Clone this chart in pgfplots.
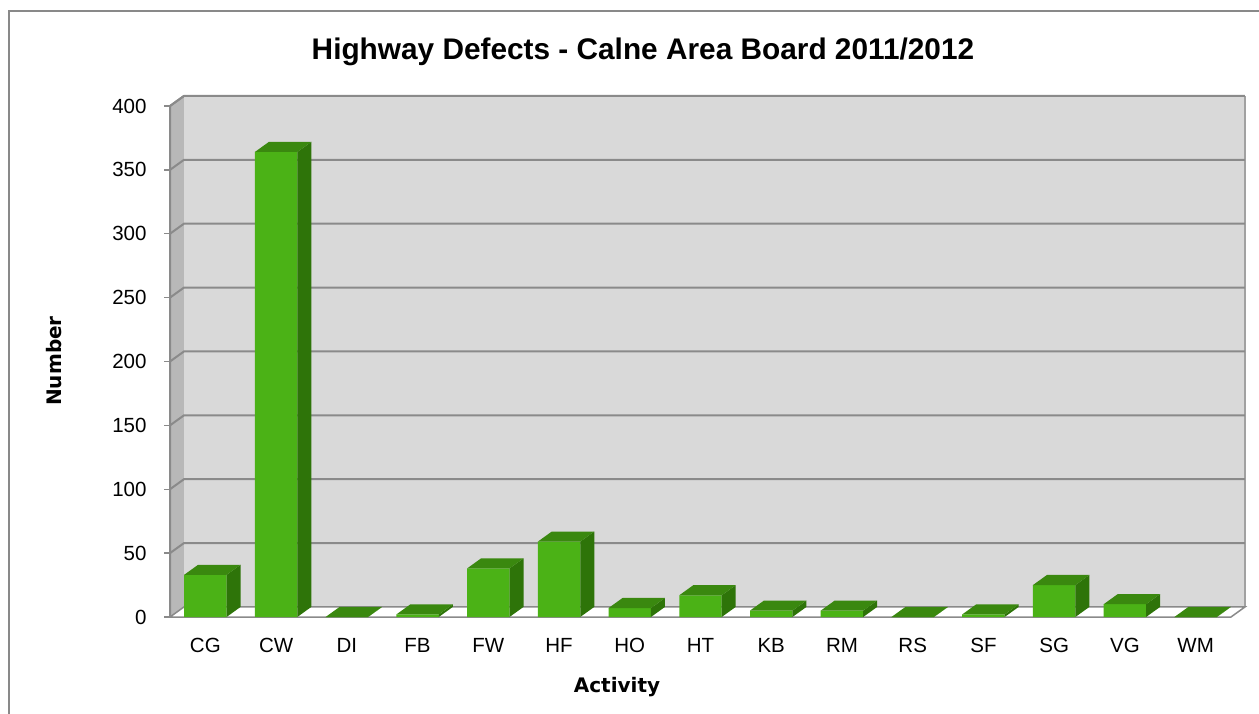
\documentclass[border=0pt]{standalone}
\usepackage{pgfplots}
\pgfplotsset{compat=1.18}
\usepackage{pgfplotstable}
\usepackage{fontspec}
\setmainfont{Liberation Sans}
\newfontfamily\labelfont{DejaVu Sans}

\definecolor{barfront}{RGB}{75,178,22}
\definecolor{bartop}{RGB}{58,136,15}
\definecolor{barside}{RGB}{46,116,9}
\definecolor{wallback}{RGB}{217,217,217}
\definecolor{wallleft}{RGB}{184,184,184}
\definecolor{gridgray}{RGB}{138,138,138}
\definecolor{bordergray}{RGB}{137,137,137}

\pgfplotstableread{
x label value
0 CG 33
1 CW 364
2 DI 0
3 FB 2
4 FW 38
5 HF 59
6 HO 7
7 HT 17
8 KB 5
9 RM 5
10 RS 0
11 SF 2
12 SG 25
13 VG 10
14 WM 0
}\data

\def\dx{0.198}
\def\dy{7.9}

\begin{document}
\begin{tikzpicture}[x=1pt,y=1pt]
\begin{scope}
\clip (0pt,0pt) rectangle (1259pt,713pt);
\draw[bordergray, line width=2pt] (9pt,702pt) rectangle (1320pt,-30pt);
\end{scope}
\node[font=\bfseries\fontsize{29.8}{34}\selectfont, anchor=base] at (643pt,653pt) {Highway Defects - Calne Area Board 2011/2012};
\node[font=\labelfont\bfseries\fontsize{20}{24}\selectfont, anchor=base, rotate=90] at (61.5pt,352pt) {Number};
\node[font=\labelfont\bfseries\fontsize{20}{24}\selectfont, anchor=base] at (617pt,21pt) {Activity};

\begin{axis}[
  at={(170pt,96pt)}, anchor=south west,
  scale only axis, width=1061pt, height=511pt,
  xmin=-0.5, xmax=14.5, ymin=0, ymax=400,
  clip=false,
  axis line style={draw=none},
  xtick={0,...,14},
  xticklabels from table={\data}{label},
  xtick style={draw=none},
  ytick={0,50,...,400},
  ytick pos=left,
  tick align=outside,
  major tick length=6pt,
  ytick style={draw=gridgray, line width=1.5pt},
  ticklabel style={font=\fontsize{20.5}{24}\selectfont, text=black},
  xticklabel style={yshift=-10.5pt, text height=15pt, text depth=0pt},
  yticklabel style={xshift=-14pt},
  /pgf/number format/assume math mode=true,
]
% left wall
\fill[wallleft] (axis cs:-0.5,0) -- (axis cs:-0.5+\dx,\dy) -- (axis cs:-0.5+\dx,400+\dy) -- (axis cs:-0.5,400) -- cycle;
% back wall
\fill[wallback] (axis cs:-0.5+\dx,\dy) rectangle (axis cs:14.5+\dx,400+\dy);
\draw[gridgray!80, line width=1.2pt] (axis cs:14.5+\dx,\dy) -- (axis cs:14.5+\dx,400+\dy);
% floor
\filldraw[fill=white, draw=gridgray, line width=1.5pt] (axis cs:-0.5,0) -- (axis cs:14.5,0) -- (axis cs:14.5+\dx,\dy) -- (axis cs:-0.5+\dx,\dy) -- cycle;
% gridlines
\pgfplotsinvokeforeach{50,100,...,400}{
  \draw[gridgray, line width=2pt] (axis cs:-0.5,#1) -- (axis cs:-0.5+\dx,#1+\dy) -- (axis cs:14.5+\dx,#1+\dy);
}
% front left axis line
\draw[gridgray, line width=2pt] (axis cs:-0.5,0) -- (axis cs:-0.5,400) -- (axis cs:-0.5+\dx,400+\dy);
% front faces
\addplot[ybar, bar width=0.6, bar shift=0pt, fill=barfront, draw=none] table[x=x, y=value]{\data};
% top and side faces
\pgfplotsinvokeforeach{0,...,14}{
  \pgfplotstablegetelem{#1}{value}\of\data
  \edef\temp{%
    \noexpand\fill[barside] (axis cs:#1+0.3,0) -- (axis cs:#1+0.3+\dx,\dy) -- (axis cs:#1+0.3+\dx,\pgfplotsretval+\dy) -- (axis cs:#1+0.3,\pgfplotsretval) -- cycle;
    \noexpand\fill[bartop] (axis cs:#1-0.3,\pgfplotsretval) -- (axis cs:#1+0.3,\pgfplotsretval) -- (axis cs:#1+0.3+\dx,\pgfplotsretval+\dy) -- (axis cs:#1-0.3+\dx,\pgfplotsretval+\dy) -- cycle;
  }
  \temp
}
\end{axis}
\pgfresetboundingbox
\useasboundingbox (0pt,0pt) rectangle (1259pt,713pt);
\end{tikzpicture}
\end{document}
